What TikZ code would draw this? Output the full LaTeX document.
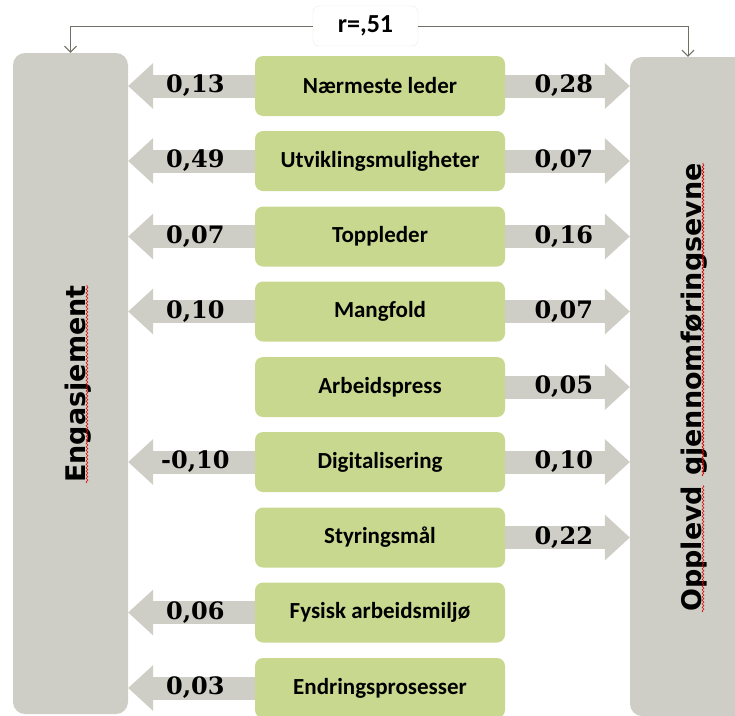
\documentclass[tikz,border=0pt]{standalone}
\usepackage{fontspec}
\setmainfont{Carlito}
\newfontfamily\coeffont{DejaVu Serif}
\newfontfamily\outcomefont{DejaVu Sans}
\usetikzlibrary{arrows.meta}
\usetikzlibrary{decorations.pathmorphing}
\definecolor{boxgrey}{RGB}{207,206,198}
\definecolor{factorgreen}{RGB}{200,217,143}
\definecolor{linkgrey}{RGB}{112,112,102}
\tikzset{
  outcome/.style={fill=boxgrey, rounded corners=12pt, inner sep=0pt},
  outcomelabel/.style={rotate=90, anchor=base, inner sep=0pt,
    font=\outcomefont\fontsize{27}{30}\selectfont\bfseries},
  spellmark/.style={red!85!black, line width=0.6pt,
    decorate, decoration={snake, segment length=3.5pt, amplitude=0.9pt}},
  factor/.style={fill=factorgreen, rounded corners=8pt, minimum width=250pt,
    minimum height=60pt, font=\fontsize{23}{25}\selectfont\bfseries},
  effect/.style={boxgrey, line width=23pt,
    -{Triangle[length=25pt, width=46pt, line width=0pt]}},
  coef/.style={text=black, pos=0.47, font=\coeffont\fontsize{24}{26}\selectfont\bfseries},
  corrbox/.style={fill=white, draw=black!8, rounded corners=6pt,
    minimum width=105pt, minimum height=40pt, font=\fontsize{26}{28}\selectfont\bfseries},
  link/.style={linkgrey, line width=1pt, -{Straight Barb[length=6pt, width=12pt]}}
}
\begin{document}
\begin{tikzpicture}[x=1pt,y=-1pt]
    \useasboundingbox (0,0) rectangle (735,715);
    % Outcomes
    \node[outcome, minimum width=115pt, minimum height=661pt] (eng) at (70.5,383.5) {};
    \node[outcome, minimum width=116pt, minimum height=659pt] (gjf) at (688,386.5) {};
    \node[outcomelabel] (englabel) at (85,384) {Engasjement};
    \node[outcomelabel, anchor=base west] (gjfword1) at (701,612) {Opplevd};
    \node[outcomelabel, anchor=base west] (gjfword2) at ([yshift=9.4pt]gjfword1.base east) {gjennomføringsevne};
    \draw[spellmark] ([xshift=2pt]englabel.base west) -- ([xshift=2pt]englabel.base east);
    \draw[spellmark] ([xshift=2pt]gjfword1.base west) -- ([xshift=2pt]gjfword1.base east);
    \draw[spellmark] ([xshift=2pt]gjfword2.base west) -- ([xshift=2pt]gjfword2.base east);
    % Correlation
    \node[corrbox] (corr) at (365.5,26) {r=,51};
    \draw[link] (corr.west) -| (eng.north);
    \draw[link] (corr.east) -| (gjf.north);
    %
    % Factors
    \node[factor] (f1) at (380,86) {Nærmeste leder};
    \node[factor] (f2) at (380,161) {Utviklingsmuligheter};
    \node[factor] (f3) at (380,236.5) {Toppleder};
    \node[factor] (f4) at (380,311.5) {Mangfold};
    \node[factor] (f5) at (380,387) {Arbeidspress};
    \node[factor] (f6) at (380,462) {Digitalisering};
    \node[factor] (f7) at (380,537.5) {Styringsmål};
    \node[factor] (f8) at (380,612.5) {Fysisk arbeidsmiljø};
    \node[factor] (f9) at (380,688) {Endringsprosesser};
    %
    % Effects:
  \draw[effect] (f1.west) -- (f1.west -| eng.east) node[coef] {0,13};
  \draw[effect] (f1.east) -- (f1.east -| gjf.west) node[coef] {0,28};
  \draw[effect] (f2.west) -- (f2.west -| eng.east) node[coef] {0,49};
  \draw[effect] (f2.east) -- (f2.east -| gjf.west) node[coef] {0,07};
  \draw[effect] (f3.west) -- (f3.west -| eng.east) node[coef] {0,07};
  \draw[effect] (f3.east) -- (f3.east -| gjf.west) node[coef] {0,16};
  \draw[effect] (f4.west) -- (f4.west -| eng.east) node[coef] {0,10};
  \draw[effect] (f4.east) -- (f4.east -| gjf.west) node[coef] {0,07};
  \draw[effect] (f5.east) -- (f5.east -| gjf.west) node[coef] {0,05};
  \draw[effect] (f6.west) -- (f6.west -| eng.east) node[coef] {-0,10};
  \draw[effect] (f6.east) -- (f6.east -| gjf.west) node[coef] {0,10};
  \draw[effect] (f7.east) -- (f7.east -| gjf.west) node[coef] {0,22};
  \draw[effect] (f8.west) -- (f8.west -| eng.east) node[coef] {0,06};
  \draw[effect] (f9.west) -- (f9.west -| eng.east) node[coef] {0,03};
\end{tikzpicture}
\end{document}
